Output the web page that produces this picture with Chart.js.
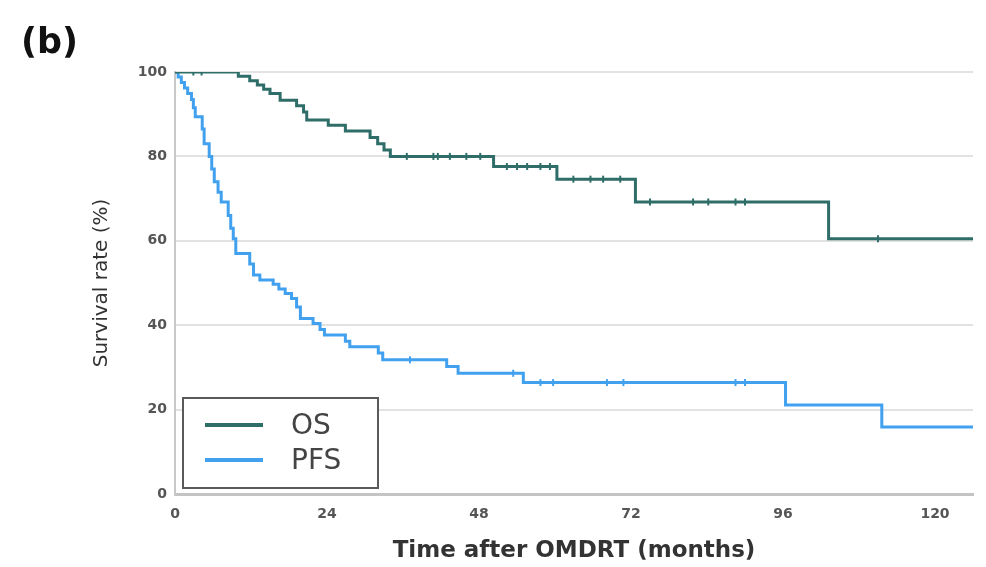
<!DOCTYPE html>
<html>
<head>
<meta charset="utf-8">
<script src="https://cdn.jsdelivr.net/npm/chart.js@4"></script>
<style>
  body { margin: 0; background: #fff; }
  #wrap { position: relative; width: 986px; height: 567px; }
</style>
</head>
<body>
<div id="wrap"><canvas id="km"></canvas></div>
<script>
// Kaplan-Meier steps: time (months) and survival (%) after each event
const osTime = [0, 10.0, 11.8, 13.0, 14.0, 15.0, 16.6, 19.2, 20.3, 20.8, 24.2, 26.9, 30.8, 32.0, 33.0, 34.0, 50.3, 60.3, 72.7, 103.2, 126];
const osSurv = [100, 99.0, 97.9, 96.9, 95.9, 94.9, 93.3, 92.0, 90.5, 88.6, 87.4, 86.0, 84.5, 83.0, 81.5, 80.0, 77.6, 74.6, 69.2, 60.5, 60.5];
const osCensor = [2.9, 4.2, 36.6, 40.8, 41.5, 43.4, 46.0, 48.2, 52.4, 54.0, 55.6, 57.7, 59.2, 62.9, 65.6, 67.6, 70.3, 75.0, 81.8, 84.2, 88.5, 90.0, 111.0];

const pfsTime = [0, 0.5, 1.0, 1.5, 2.0, 2.6, 2.9, 3.2, 4.3, 4.6, 5.4, 5.8, 6.2, 6.8, 7.3, 8.4, 8.8, 9.2, 9.6, 11.8, 12.4, 13.4, 15.5, 16.4, 17.4, 18.4, 19.2, 19.8, 21.8, 22.9, 23.6, 26.9, 27.6, 32.1, 32.8, 42.9, 44.7, 55.0, 96.4, 111.6, 126];
const pfsSurv = [100, 98.8, 97.5, 96.2, 94.9, 93.5, 91.5, 89.4, 86.5, 83.0, 80.0, 77.0, 74.0, 71.5, 69.2, 66.0, 63.0, 60.5, 57.0, 54.5, 51.9, 50.7, 49.7, 48.6, 47.5, 46.3, 44.3, 41.6, 40.4, 39.0, 37.7, 36.2, 34.9, 33.4, 31.8, 30.2, 28.6, 26.4, 21.1, 15.9, 15.9];
const pfsCensor = [37.1, 53.4, 57.7, 59.7, 68.2, 70.8, 88.5, 90.0];

const seriesNames = ["OS", "PFS"];
const seriesColors = ["#2f6e68", "#42a1ef"];
const xTicks = [0, 24, 48, 72, 96, 120];
const yTicks = [0, 20, 40, 60, 80, 100];

const FONT = '"DejaVu Sans", Verdana, sans-serif';

function toPoints(t, s) {
  return t.map((x, i) => ({ x: x, y: s[i] }));
}
function survAt(t, s, m) {
  let v = s[0];
  for (let i = 0; i < t.length; i++) if (t[i] <= m) v = s[i];
  return v;
}
function censorPoints(c, t, s) {
  return c.map(m => ({ x: m, y: survAt(t, s, m) }));
}

const lineDs = (label, data, color) => ({
  label: label, data: data, showLine: true, borderColor: color, borderWidth: 3,
  stepped: 'before', pointRadius: 0, pointHoverRadius: 0, fill: false
});
const tickDs = (label, data, color) => ({
  label: label, data: data, showLine: false, pointStyle: 'line', rotation: 90,
  pointRadius: 3.5, borderColor: color, borderWidth: 2, pointHoverRadius: 0
});

// legend box inside the plot (bottom-left) and the panel letter
const boxLegend = {
  id: 'boxLegend',
  afterDraw(chart) {
    const c = chart.ctx;
    c.save();
    c.fillStyle = '#fff';
    c.fillRect(183, 398, 195, 90);
    c.strokeStyle = '#5a5a5a';
    c.lineWidth = 2;
    c.strokeRect(183, 398, 195, 90);
    c.font = '28px ' + FONT;
    c.textBaseline = 'middle';
    seriesNames.forEach((n, i) => {
      const y = 425 + i * 35;
      c.strokeStyle = seriesColors[i];
      c.lineWidth = 4;
      c.beginPath(); c.moveTo(205, y); c.lineTo(263, y); c.stroke();
      c.fillStyle = '#444';
      c.fillText(n, 291, y + 2);
    });
    c.fillStyle = '#111';
    c.font = 'bold 35px ' + FONT;
    c.textBaseline = 'alphabetic';
    c.fillText('(b)', 21, 53);
    c.restore();
  }
};

new Chart(document.getElementById("km"), {
  type: 'scatter',
  data: {
    datasets: [
      lineDs(seriesNames[0], toPoints(osTime, osSurv), seriesColors[0]),
      lineDs(seriesNames[1], toPoints(pfsTime, pfsSurv), seriesColors[1]),
      tickDs(seriesNames[0] + ' censored', censorPoints(osCensor, osTime, osSurv), seriesColors[0]),
      tickDs(seriesNames[1] + ' censored', censorPoints(pfsCensor, pfsTime, pfsSurv), seriesColors[1])
    ]
  },
  options: {
    responsive: true,
    maintainAspectRatio: false,
    animation: false,
    layout: { padding: { left: 86, right: 13, top: 72, bottom: 0 } },
    plugins: { legend: { display: false }, tooltip: { enabled: false } },
    scales: {
      x: {
        type: 'linear', min: 0, max: 126,
        afterBuildTicks: s => { s.ticks = xTicks.map(v => ({ value: v })); },
        afterFit: s => { s.height = 73; },
        grid: { display: false },
        border: { color: '#c4c4c4', width: 3 },
        ticks: { color: '#555', padding: 4, font: { family: FONT, size: 14, weight: 'bold' } },
        title: {
          display: true, text: 'Time after OMDRT (months)', color: '#333',
          font: { family: FONT, size: 23, weight: 'bold' },
          padding: { top: 0, bottom: 2 }
        }
      },
      y: {
        min: 0, max: 100,
        afterBuildTicks: s => { s.ticks = yTicks.map(v => ({ value: v })); },
        afterFit: s => { s.width = 89; },
        grid: { color: '#e2e2e2', lineWidth: 2, drawTicks: false },
        border: { color: '#c8c8c8', width: 2 },
        ticks: { color: '#555', padding: 8, font: { family: FONT, size: 14, weight: 'bold' } },
        title: {
          display: true, text: 'Survival rate (%)', color: '#333',
          font: { family: FONT, size: 20 },
          padding: { top: 4, bottom: 0 }
        }
      }
    }
  },
  plugins: [boxLegend]
});
</script>
</body>
</html>
